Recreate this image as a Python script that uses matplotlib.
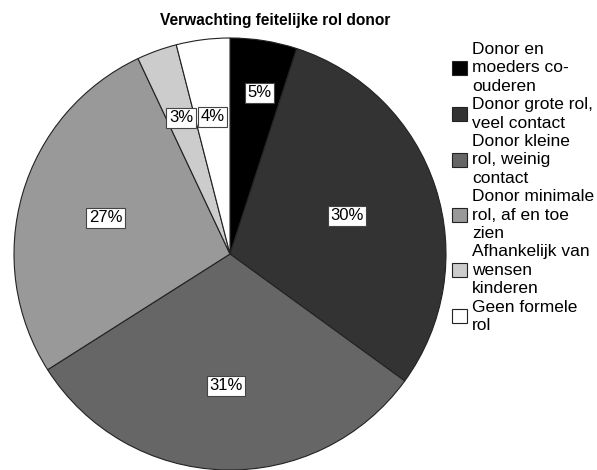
import matplotlib.pyplot as plt
import numpy as np

plt.rcParams['font.family'] = ['Liberation Sans', 'DejaVu Sans']

# Data
labels = ['Donor en\nmoeders co-\nouderen',
          'Donor grote rol,\nveel contact',
          'Donor kleine\nrol, weinig\ncontact',
          'Donor minimale\nrol, af en toe\nzien',
          'Afhankelijk van\nwensen\nkinderen',
          'Geen formele\nrol']
values = [5, 30, 31, 27, 3, 4]
colors = ['#000000', '#333333', '#666666', '#999999', '#cccccc', '#ffffff']
label_dist = [0.76, 0.57, 0.61, 0.6, 0.67, 0.64]

fig = plt.figure(figsize=(5.97, 4.70), dpi=100)
ax = fig.add_axes([14 / 597, 0, 432 / 597, 432 / 470])

wedges, _ = ax.pie(values, colors=colors, startangle=90, counterclock=False,
                   wedgeprops=dict(edgecolor='#222222', linewidth=0.8))

# percentage labels in white boxes
for w, v, d in zip(wedges, values, label_dist):
    ang = np.deg2rad((w.theta1 + w.theta2) / 2 - 1.5 * (v == 5))
    ax.text(d * np.cos(ang), d * np.sin(ang), f'{v}%', ha='center', va='center',
            fontsize=12,
            bbox=dict(boxstyle='square,pad=0.15', facecolor='white',
                      edgecolor='#444444', linewidth=0.8))

ax.set_xlim(-1, 1)
ax.set_ylim(-1, 1)
ax.set_aspect('equal')

fig.text(275 / 597, 1 - 20 / 470, 'Verwachting feitelijke rol donor',
         ha='center', va='center', fontsize=11.2, fontweight='bold')

leg = fig.legend(wedges, labels, loc='upper left',
                 bbox_to_anchor=(452 / 597, 1 - 42 / 470),
                 frameon=False, fontsize=12.5, handlelength=0.85,
                 handleheight=0.85, handletextpad=0.3, labelspacing=0.2,
                 borderpad=0, borderaxespad=0)
for t in leg.get_texts():
    t.set_linespacing(1.28)

fig.savefig('out.png', dpi=100)
